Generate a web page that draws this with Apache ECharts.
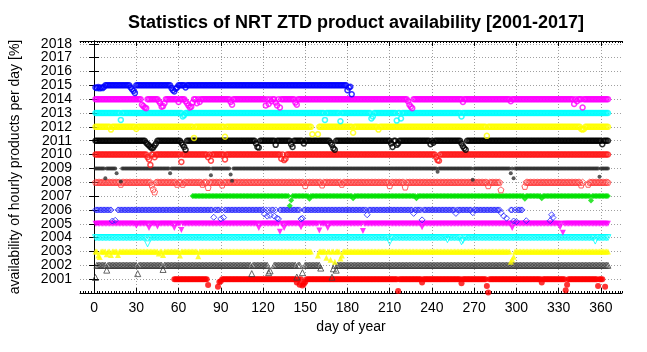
<!DOCTYPE html>
<html>
<head>
<meta charset="utf-8">
<script src="https://cdn.jsdelivr.net/npm/echarts@6/dist/echarts.min.js"></script>
<style>
html, body { margin: 0; padding: 0; background: #fff; }
#ztd { width: 647px; height: 352px; }
</style>
</head>
<body>
<div id="ztd"></div>
<script type="text/javascript">

// one row per year, y = year - 1 + availability/100
var years    = [2001, 2002, 2003, 2004, 2005, 2006, 2007, 2008, 2009, 2010, 2011, 2012, 2013, 2014, 2015];
var firstDay = [57, 1, 1, 1, 1, 1, 70, 1, 1, 1, 1, 1, 1, 1, 1];
var lastDay  = [361, 365, 365, 365, 365, 304, 365, 365, 365, 365, 365, 365, 365, 365, 179];
var fullAvail = 100;

// days with no product at all [from, to]
var gaps = [
    [[82, 88]],
    [[126, 127], [147, 149], [162, 170]],
    [[155, 158]],
    [],
    [],
    [[13, 16], [289, 295]],
    [],
    [[290, 305], [348, 350]],
    [[16, 18]],
    [],
    [],
    [[155, 159]],
    [],
    [],
    []
];

// days with reduced availability [day, percent]
var dips = [
    [[81,57],[88,45],[89,80],[90,85],[144,75],[146,60],[148,55],[149,65],[150,80],[216,15],[233,75],[261,70],[279,50],[280,3],[318,75],[335,20],[336,60],[358,50],[363,45]],
    [[1,12],[9,65],[31,40],[49,70],[112,40],[124,47],[125,60],[144,15],[148,47],[161,80],[169,14],[170,75],[172,65]],
    [[3,70],[4,60],[9,80],[12,75],[17,75],[46,85],[49,75],[61,70],[74,65],[159,70],[165,55],[168,40],[171,25],[175,50],[176,70],[296,25],[297,42],[298,62]],
    [[38,55],[210,70],[251,85],[261,70],[262,80],[356,75]],
    [[30,85],[39,70],[45,80],[57,70],[62,55],[117,70],[132,42],[135,70],[147,75],[160,52],[166,70],[191,48],[233,75],[297,70],[331,75],[333,35]],
    [[13,20],[15,25],[85,47],[90,35],[92,45],[121,70],[123,55],[125,60],[128,55],[130,40],[131,35],[147,35],[148,40],[194,65],[227,75],[233,28],[257,75],[269,80],[289,80],[291,55],[293,40],[298,20],[300,15],[307,22],[324,22],[325,65],[326,45]],
    [[139,30],[140,70],[153,80],[184,85],[229,85],[306,80],[318,85],[353,68]],
    [[19,85],[41,80],[42,50],[43,30],[59,85],[63,85],[77,85],[81,62],[91,80],[150,75],[162,80],[176,85],[210,75],[221,65],[280,75],[289,45],[306,70],[346,80],[351,85]],
    [[8,28],[16,65],[19,5],[54,65],[83,50],[97,55],[98,10],[244,75],[269,18],[296,65],[298,28],[359,40]],
    [[38,80],[39,65],[40,25],[43,80],[62,47],[81,80],[83,55],[93,65],[133,70],[135,60],[136,70],[243,80],[244,60],[245,55]],
    [[37,85],[38,75],[39,65],[40,55],[41,45],[42,50],[43,65],[44,80],[62,85],[63,70],[64,55],[65,35],[115,80],[116,55],[117,50],[129,70],[140,75],[141,55],[149,80],[168,85],[169,70],[170,45],[171,35],[211,80],[212,55],[215,70],[216,80],[239,75],[241,85],[261,80],[262,60],[263,45],[264,35],[361,75]],
    [[12,80],[30,85],[71,20],[93,28],[155,47],[159,47],[184,57],[202,80],[279,35],[346,85],[347,80],[348,85]],
    [[19,50],[63,75],[64,85],[164,50],[175,40],[197,60],[198,75],[215,45],[218,60],[261,75]],
    [[34,60],[35,50],[36,40],[37,35],[46,85],[47,70],[48,45],[49,50],[50,70],[60,80],[65,85],[66,70],[67,55],[68,40],[69,45],[70,75],[73,70],[75,80],[97,80],[98,60],[122,55],[124,65],[126,85],[129,75],[130,55],[132,40],[143,75],[144,60],[223,85],[224,60],[225,45],[226,35],[262,80],[296,85],[341,65],[343,85],[347,40]],
    [[1,85],[2,80],[3,88],[4,78],[5,85],[6,80],[7,88],[26,85],[27,72],[28,60],[29,45],[55,80],[56,65],[57,55],[58,75],[59,85],[65,85],[180,65],[181,85],[182,90],[183,35]]
];

var dayTicks  = [0, 30, 60, 90, 120, 150, 180, 210, 240, 270, 300, 330, 360];
var yearTicks = [2001, 2002, 2003, 2004, 2005, 2006, 2007, 2008, 2009, 2010, 2011, 2012, 2013, 2014, 2015, 2016, 2017, 2018];

// point styles, gnuplot like
var pentagon = 'path://M0,-10L9.5,-3.1L5.9,8.1L-5.9,8.1L-9.5,-3.1Z';
var colors  = ['#ff0000', '#404040', '#ffff00', '#00ffff', '#ff00ff', '#2020ff', '#00e000', '#ff3a3a', '#303030', '#ff1a1a', '#000000', '#ffff00', '#00ffff', '#ff00ff', '#0000ff'];
var marks   = ['circle', 'triangle', 'triangle', 'triangle', 'triangle', 'diamond', 'diamond', pentagon, 'circle', 'circle', 'circle', 'circle', 'circle', 'circle', 'circle'];
var rotates = [0, 0, 0, 180, 180, 0, 0, 0, 0, 0, 0, 0, 0, 0, 0];
var filled  = [true, false, true, false, true, false, true, false, true, false, false, false, false, false, false];
var sizes   = [6, 6, 6, 6, 6, 6, 6, 6, 4, 5, 5, 5, 5, 5, 5];
var widths  = [0, 1, 0, 1, 0, 1, 0, 1, 0, 1.5, 1.5, 1.5, 1.5, 1.5, 1.5];

function buildYear(k) {
    var dipMap = {};
    dips[k].forEach(function (p) { dipMap[p[0]] = p[1]; });
    var gapMap = {};
    gaps[k].forEach(function (g) {
        for (var d = g[0]; d <= g[1]; d++) gapMap[d] = true;
    });
    var out = [];
    for (var d = firstDay[k]; d <= lastDay[k]; d++) {
        if (gapMap[d] || dipMap[d] !== undefined) continue;
        out.push([d, years[k] - 1 + fullAvail / 100]);
    }
    dips[k].forEach(function (p) {
        out.push([p[0], years[k] - 1 + p[1] / 100]);
    });
    return out;
}

var series = [];
for (var k = 0; k < years.length; k++) {
    series.push({
        name: String(years[k]),
        type: 'scatter',
        xAxisIndex: 0,
        yAxisIndex: 0,
        symbol: marks[k],
        symbolRotate: rotates[k],
        symbolSize: sizes[k],
        itemStyle: filled[k]
            ? { color: colors[k] }
            : { color: 'rgba(0,0,0,0)', borderColor: colors[k], borderWidth: widths[k] },
        data: buildYear(k)
    });
}

var gridLine = { show: true, lineStyle: { color: '#a0a0a0', type: [1, 2], width: 1 } };
var labelFont = { fontFamily: 'Liberation Sans, Arial, sans-serif', fontSize: 14, color: '#000' };

var ztdChart = echarts.init(document.getElementById('ztd'));
var option = {
    animation: false,
    backgroundColor: '#fff',
    title: {
        text: 'Statistics of NRT ZTD product availability [2001-2017]',
        left: 351,
        textAlign: 'center',
        top: 9,
        textStyle: { fontFamily: 'Liberation Sans, Arial, sans-serif', fontSize: 18, fontWeight: 'bold', color: '#000' }
    },
    grid: { left: 77, right: 25, top: 41, bottom: 59 },
    xAxis: [{
        type: 'value', position: 'bottom', min: -10, max: 375,
        name: 'day of year', nameLocation: 'middle', nameGap: 27,
        nameTextStyle: labelFont,
        axisLine: { show: true, lineStyle: { color: '#000', width: 1 } },
        axisTick: { show: true, inside: true, length: 5, customValues: dayTicks, lineStyle: { color: '#000' } },
        axisLabel: Object.assign({ customValues: dayTicks, margin: 8 }, labelFont),
        splitLine: gridLine
    }, {
        type: 'value', position: 'bottom', min: -10, max: 375, interval: 2,
        axisLine: { show: false },
        axisTick: { show: true, inside: true, length: 2, lineStyle: { color: '#000' } },
        axisLabel: { show: false },
        splitLine: { show: false }
    }, {
        type: 'value', position: 'top', min: -10, max: 375,
        axisLine: { show: true, lineStyle: { color: '#000', width: 1 } },
        axisTick: { show: true, inside: true, length: 5, customValues: dayTicks, lineStyle: { color: '#000' } },
        axisLabel: { show: false },
        splitLine: { show: false }
    }, {
        type: 'value', position: 'top', min: -10, max: 375, interval: 2,
        axisLine: { show: false },
        axisTick: { show: true, inside: true, length: 2, lineStyle: { color: '#000' } },
        axisLabel: { show: false },
        splitLine: { show: false }
    }],
    yAxis: [{
        type: 'value', position: 'left', min: 2000, max: 2018.2,
        name: 'availability of hourly products per day [%]', nameLocation: 'middle', nameGap: 58,
        nameTextStyle: labelFont,
        axisLine: { show: true, lineStyle: { color: '#000', width: 1 } },
        axisTick: { show: true, inside: true, length: 5, customValues: yearTicks, lineStyle: { color: '#000' } },
        axisLabel: Object.assign({ customValues: yearTicks, margin: 8, formatter: function (v) { return String(v); } }, labelFont),
        splitLine: gridLine
    }, {
        type: 'value', position: 'right', min: 2000, max: 2018.2,
        axisLine: { show: true, lineStyle: { color: '#000', width: 1 } },
        axisTick: { show: true, inside: true, length: 5, customValues: yearTicks, lineStyle: { color: '#000' } },
        axisLabel: { show: false },
        splitLine: { show: false }
    }],
    series: series
};
ztdChart.setOption(option);
</script>
</body>
</html>
